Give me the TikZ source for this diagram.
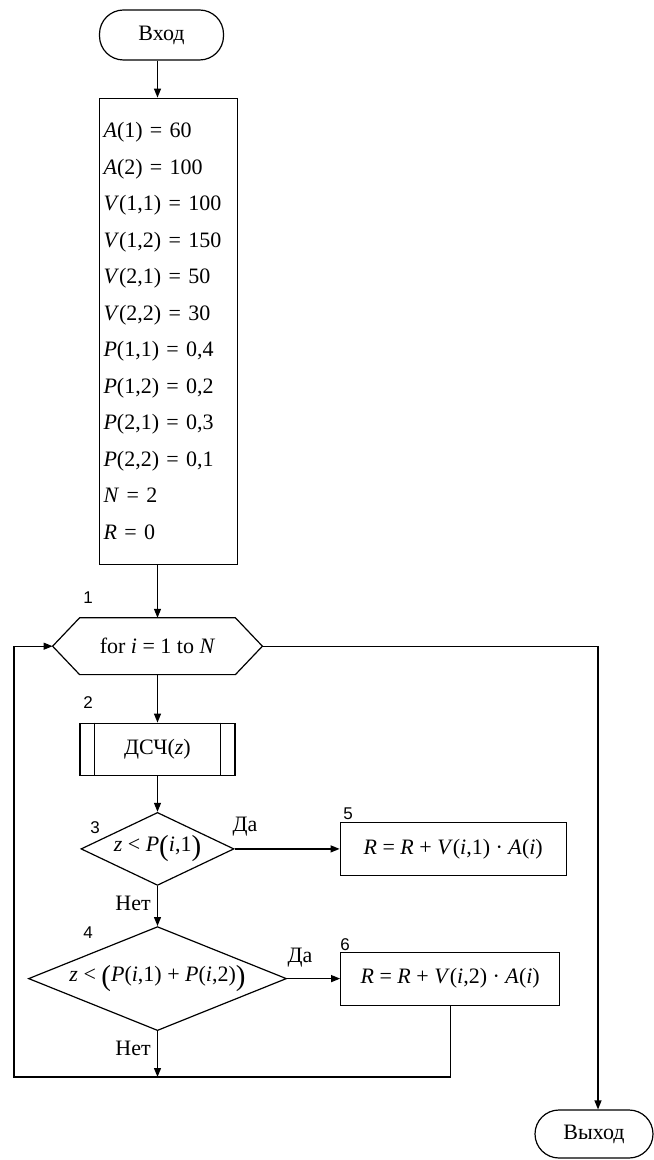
\documentclass[tikz,border=0pt]{standalone}
\usepackage{fontspec}
\setmainfont{Liberation Serif}
\newfontfamily\numfont{Liberation Sans}
\usetikzlibrary{shapes.geometric, arrows.meta, positioning}

\newcommand{\va}[1]{\textit{#1}}
\newcommand{\lpr}{\raisebox{-2pt}{\fontsize{14.5}{14}\selectfont(}}
\newcommand{\rpr}{\raisebox{-2pt}{\fontsize{14.5}{14}\selectfont)}}

\begin{document}
\begin{tikzpicture}[
    x=0.5pt, y=-0.5pt,
    every node/.style={font=\fontsize{11}{13}\selectfont},
    term/.style={draw, line width=0.6pt, rounded corners=12pt, minimum width=62pt, minimum height=25pt},
    proc/.style={draw, line width=0.6pt, inner sep=2pt, minimum height=26.5pt},
    subr/.style={draw, line width=0.6pt, minimum width=77.5pt, minimum height=26pt},
    hexa/.style={inner sep=0pt, minimum width=104.5pt, minimum height=28pt},
    cond/.style={draw, diamond, line width=0.6pt, inner sep=0pt},
    num/.style={font=\numfont\fontsize{8.5}{10}\selectfont, inner sep=0pt},
    lbl/.style={inner sep=0pt},
    line/.style={line width=0.6pt},
    arr/.style={line width=0.6pt, -{Triangle[length=4.5pt, width=3.5pt]}}
]
    \useasboundingbox (0,0) rectangle (653,1160);

    % Start and data
    \node[term] (start) at (161.5,35) {Вход};
    \node[proc, text width=65pt, align=left, minimum height=233pt,
          font=\fontsize{11}{18.25}\selectfont,
          below=18.5pt of start, xshift=3.5pt] (init) {%
        \va{A}(1) = 60\\
        \va{A}(2) = 100\\
        \va{V}(1,1) = 100\\
        \va{V}(1,2) = 150\\
        \va{V}(2,1) = 50\\
        \va{V}(2,2) = 30\\
        \va{P}(1,1) = 0,4\\
        \va{P}(1,2) = 0,2\\
        \va{P}(2,1) = 0,3\\
        \va{P}(2,2) = 0,1\\
        \va{N} = 2\\
        \va{R} = 0};

    % Loop header
    \node[hexa, below=26.5pt of init, xshift=-5.5pt] (for) {for \va{i} = 1 to \va{N}};
    \draw[line] (for.west) -- ([xshift=13.5pt]for.north west) -- ([xshift=-13.5pt]for.north east)
        -- (for.east) -- ([xshift=-13.5pt]for.south east) -- ([xshift=13.5pt]for.south west) -- cycle;

    % Random number
    \node[subr, below=24pt of for] (rng) {ДСЧ(\va{z})};
    \draw[line] ([xshift=7.5pt]rng.north west) -- ([xshift=7.5pt]rng.south west);
    \draw[line] ([xshift=-7.5pt]rng.north east) -- ([xshift=-7.5pt]rng.south east);

    % Conditions
    \node[cond, minimum width=76.5pt, minimum height=36.5pt, shape aspect=2.1,
          below=18pt of rng] (c3) {\va{z} < \va{P}\lpr\va{i},1\rpr};
    \node[cond, minimum width=129pt, minimum height=52pt, shape aspect=2.48,
          below=20pt of c3] (c4) {\va{z} < \lpr\va{P}(\va{i},1) + \va{P}(\va{i},2)\rpr};

    % Sums
    \node[proc, minimum width=113pt, right=52.5pt of c3] (b5) {\va{R} = \va{R} + \va{V}(\va{i},1) · \va{A}(\va{i})};
    \node[proc, minimum width=109.5pt, right=26.5pt of c4] (b6) {\va{R} = \va{R} + \va{V}(\va{i},2) · \va{A}(\va{i})};

    % Exit
    \node[term, minimum width=59pt, minimum height=24pt] (exit) at (594,1134) {Выход};
    \coordinate (loopbl) at (14,1077);

    % Block numbers
    \node[num] (n1) at (88,598) {1};
    \node[num] (n2) at (88,703) {2};
    \node[num] (n3) at (95,828) {3};
    \node[num] (n4) at (88,933) {4};
    \node[num] (n5) at (348,814) {5};
    \node[num] (n6) at (345,945) {6};

    % Branch labels
    \node[lbl] (yes3) at (245,827) {Да};
    \node[lbl] (yes4) at (300,958) {Да};
    \node[lbl] (no3) at (133,903) {Нет};
    \node[lbl] (no4) at (133,1048) {Нет};

    % Arrows
    \draw[arr] (for.north |- start.south) -- (for.north |- init.north);
    \draw[arr] (for.north |- init.south) -- (for.north);
    \draw[arr] (for.south) -- (rng.north);
    \draw[arr] (rng.south) -- (c3.north);
    \draw[arr] (c3.east) -- (b5.west);
    \draw[arr] (c3.south) -- (c4.north);
    \draw[arr] (c4.east) -- (b6.west);
    \draw[arr] (c4.south) -- (c4.south |- loopbl);
    \draw[arr] (b6.south) |- (loopbl) |- (for.west);
    \draw[arr] (for.east) -| ([xshift=2pt]exit.north);
\end{tikzpicture}
\end{document}
